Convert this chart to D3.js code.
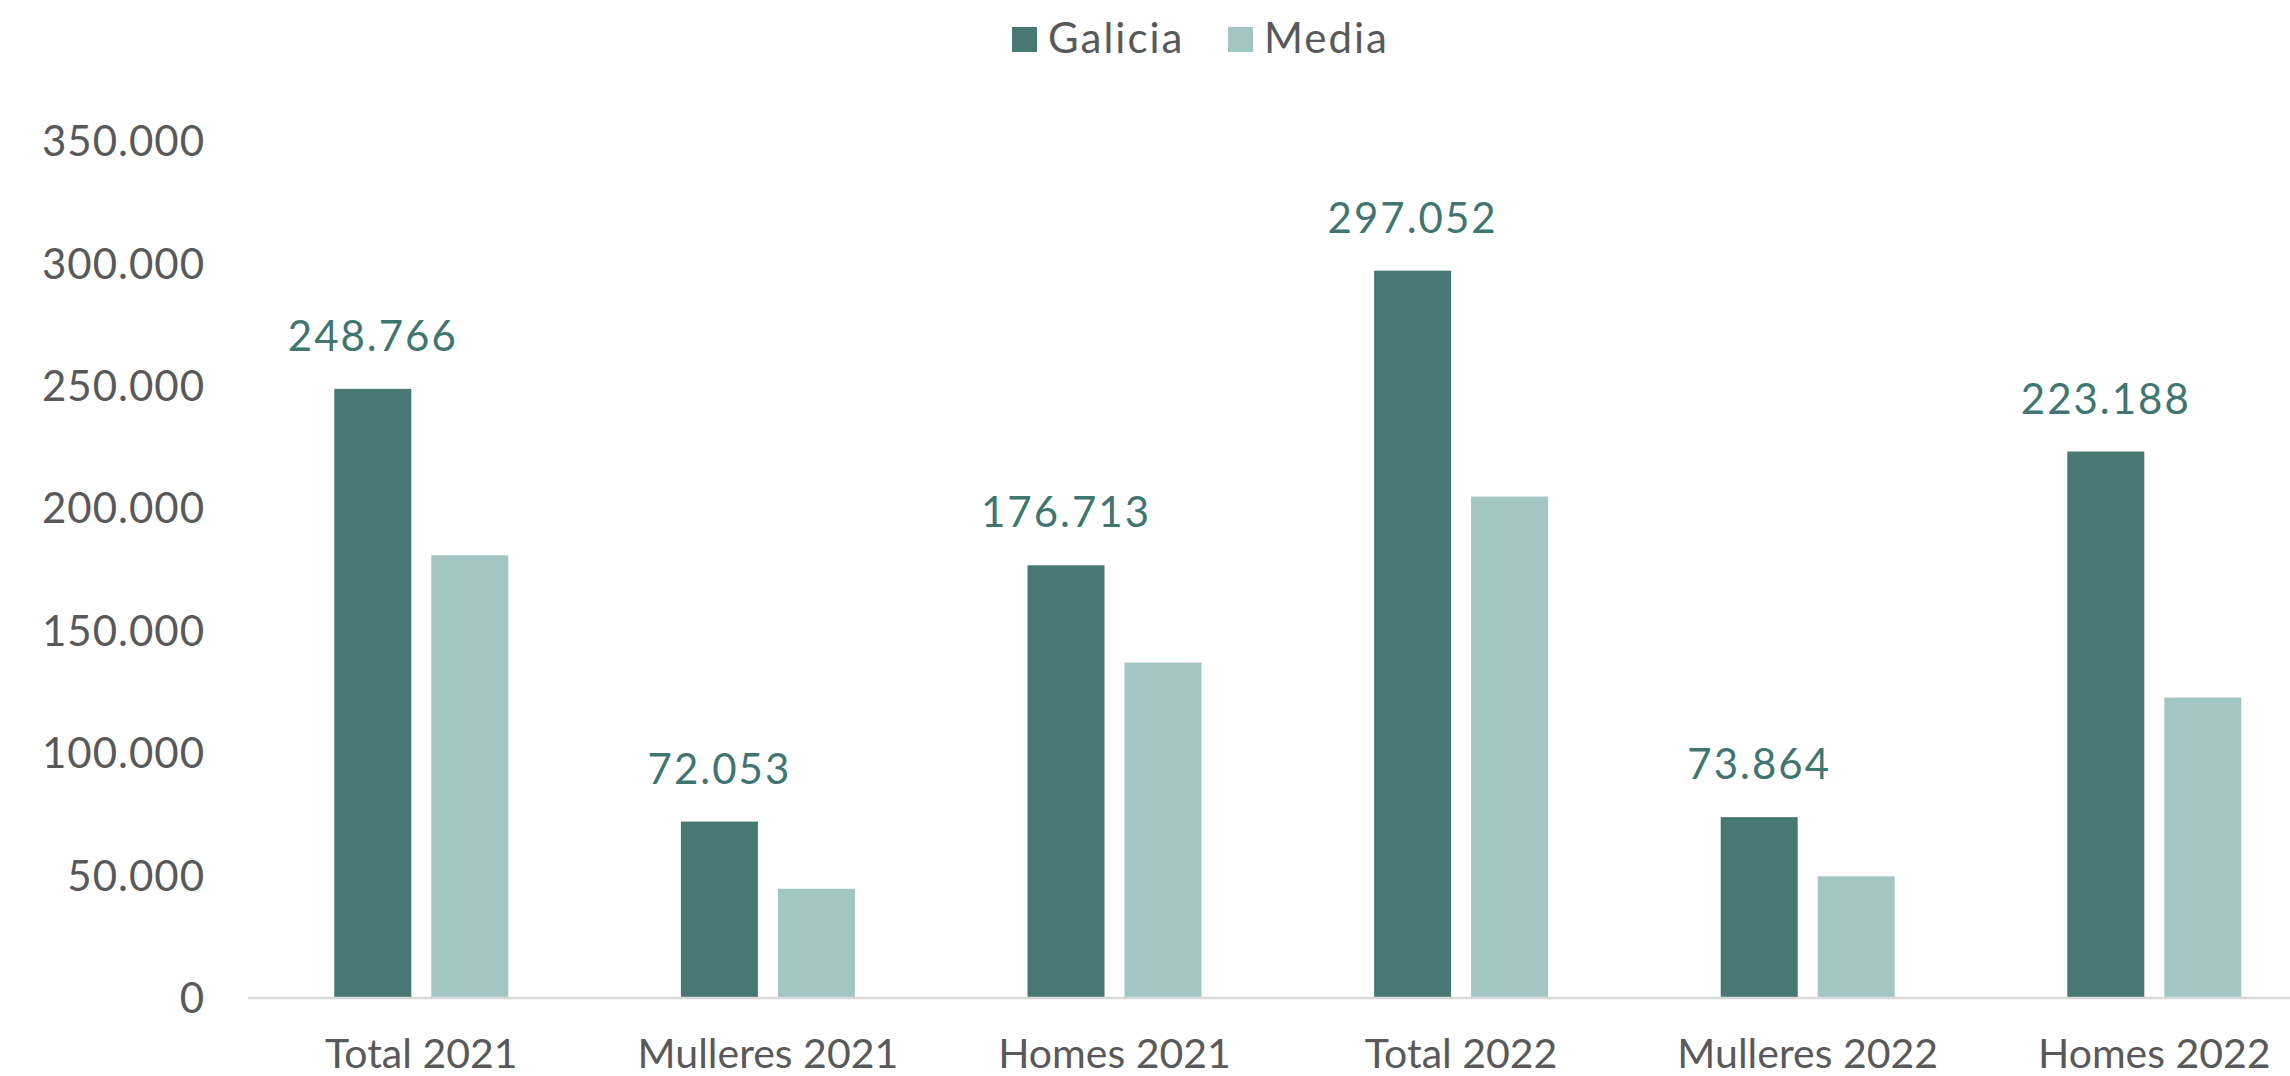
<!DOCTYPE html>
<html>
<head>
<meta charset="utf-8">
<script src="https://cdn.jsdelivr.net/npm/d3@7"></script>
<style>
  body { margin: 0; background: #fff; }
  text { font-family: Lato, "Open Sans", sans-serif; }
</style>
</head>
<body>
<svg id="chart" width="2290" height="1076"></svg>
<script>
// data
const categories = ["Total 2021", "Mulleres 2021", "Homes 2021", "Total 2022", "Mulleres 2022", "Homes 2022"];
const seriesNames = ["Galicia", "Media"];
const galicia = [248766, 72053, 176713, 297052, 73864, 223188];
const media = [180800, 44600, 137000, 204800, 49700, 122700];
const yTicks = [0, 50000, 100000, 150000, 200000, 250000, 300000, 350000];

const colors = { Galicia: "#487873", Media: "#a2c6c3" };

const svg = d3.select("#chart"),
    width = +svg.attr("width"),
    height = +svg.attr("height");

const loc = d3.formatLocale({ decimal: ",", thousands: ".", grouping: [3], currency: ["", "€"] });
const fmt = loc.format(",d");

const x0Start = 248, step = 346.6;
const x0 = d3.scaleBand()
    .domain(categories)
    .range([x0Start, x0Start + step * categories.length])
    .paddingInner(0.498)
    .paddingOuter(0.249);

const x1 = d3.scaleBand()
    .domain(seriesNames)
    .range([0, x0.bandwidth()])
    .paddingInner(0.206);

const y = d3.scaleLinear()
    .domain([0, 350000])
    .range([998, 141]);

const rows = categories.map((c, i) => ({ cat: c, Galicia: galicia[i], Media: media[i] }));

// y axis labels (no line)
svg.append("g")
    .selectAll("text")
    .data(yTicks).enter()
    .append("text")
    .attr("x", 205)
    .attr("y", d => y(d))
    .attr("dy", "0.36em")
    .attr("text-anchor", "end")
    .attr("fill", "#595959")
    .style("font-size", "42px")
    .style("letter-spacing", "1px")
    .text(d => fmt(d));

// bars
const groups = svg.append("g")
    .selectAll("g")
    .data(rows).enter()
    .append("g")
    .attr("transform", d => `translate(${x0(d.cat)},0)`);

groups.selectAll("rect")
    .data(d => seriesNames.map(s => ({ key: s, value: d[s] })))
    .enter().append("rect")
    .attr("x", d => x1(d.key))
    .attr("width", x1.bandwidth())
    .attr("y", d => y(d.value))
    .attr("height", d => y(0) - y(d.value))
    .attr("fill", d => colors[d.key]);

// value labels for Galicia
groups.append("text")
    .attr("x", x1("Galicia") + x1.bandwidth() / 2)
    .attr("y", d => y(d.Galicia) - 38)
    .attr("text-anchor", "middle")
    .attr("fill", "#3f7671")
    .style("font-size", "42px")
    .style("letter-spacing", "2px")
    .text(d => fmt(d.Galicia));

// x axis
const xAxis = svg.append("g")
    .attr("transform", `translate(0,${y(0)})`)
    .call(d3.axisBottom(x0).tickSize(0).tickPadding(0));
xAxis.select(".domain").remove();
xAxis.append("line")
    .attr("x1", x0Start).attr("x2", width)
    .attr("y1", 0).attr("y2", 0)
    .attr("stroke", "#d9d9d9")
    .attr("stroke-width", 2.5);
xAxis.selectAll(".tick text")
    .attr("y", 70)
    .attr("dy", 0)
    .attr("fill", "#595959")
    .style("font-family", "Lato, 'Open Sans', sans-serif")
    .style("font-size", "41px");

// legend
const legend = svg.append("g");
const legendItems = [
    { name: "Galicia", x: 1012 },
    { name: "Media", x: 1228 }
];
legend.selectAll("rect")
    .data(legendItems).enter()
    .append("rect")
    .attr("x", d => d.x).attr("y", 27)
    .attr("width", 25).attr("height", 25)
    .attr("fill", d => colors[d.name]);
legend.selectAll("text")
    .data(legendItems).enter()
    .append("text")
    .attr("x", d => d.x + 36).attr("y", 53)
    .attr("fill", "#595959")
    .style("font-size", "42px")
    .style("letter-spacing", "2px")
    .text(d => d.name);
</script>
</body>
</html>
